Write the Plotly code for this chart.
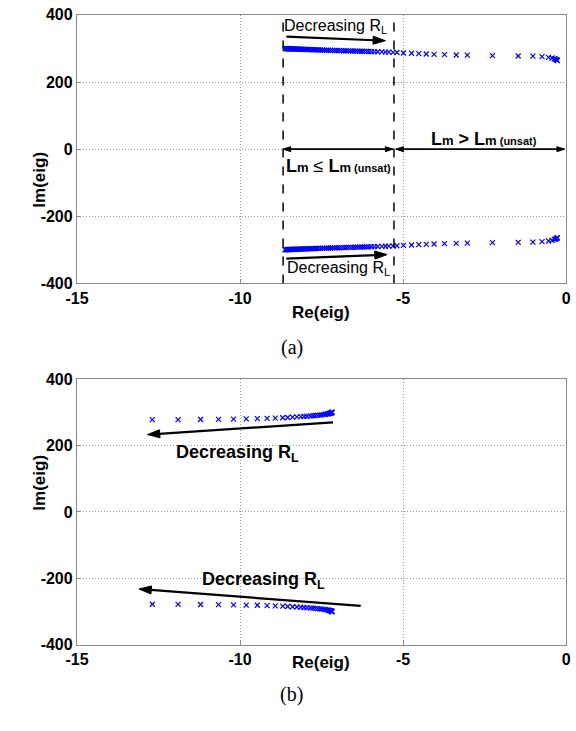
import plotly.graph_objects as go

# ---------------- data: panel (a) ----------------
re_a = [-8.62, -8.60, -8.58, -8.56, -8.54, -8.52, -8.50, -8.47, -8.44, -8.41,
        -8.38, -8.35, -8.32, -8.29, -8.26, -8.22, -8.18, -8.14, -8.10, -8.06,
        -8.02, -7.98, -7.94, -7.89, -7.84, -7.79, -7.74, -7.69, -7.64, -7.59,
        -7.53, -7.47, -7.41, -7.35, -7.29, -7.23, -7.17, -7.10, -7.03, -6.96,
        -6.89, -6.82, -6.75, -6.68, -6.61, -6.54, -6.47, -6.40, -6.33, -6.26,
        -6.19, -6.12, -6.05, -5.97, -5.88, -5.78, -5.65, -5.54, -5.44, -5.31,
        -5.19, -4.99, -4.74, -4.52, -4.29, -4.05, -3.73, -3.37, -3.03, -2.26,
        -1.47, -1.02, -0.74, -0.54, -0.43, -0.36, -0.33, -0.30, -0.28, -0.27]
im_a = [299.5, 299.4, 299.3, 299.2, 299.1, 299.0, 298.9, 298.8, 298.7, 298.6,
        298.5, 298.4, 298.3, 298.2, 298.1, 297.9, 297.8, 297.6, 297.5, 297.3,
        297.2, 297.0, 296.9, 296.7, 296.5, 296.3, 296.1, 295.9, 295.7, 295.5,
        295.3, 295.1, 294.9, 294.7, 294.5, 294.3, 294.1, 293.9, 293.7, 293.5,
        293.3, 293.1, 292.9, 292.7, 292.5, 292.3, 292.1, 291.9, 291.7, 291.5,
        291.3, 291.1, 290.9, 290.6, 290.3, 290.0, 289.6, 289.2, 288.8, 288.3,
        287.8, 286.5, 285.5, 284.5, 283.5, 282.5, 281.5, 280.5, 280.0, 278.5,
        277.5, 277.0, 275.5, 273.5, 271.5, 269.5, 268.0, 266.5, 265.0, 263.5]
im_a_conj = [-v for v in im_a]

# ---------------- data: panel (b) ----------------
re_b = [-12.69, -11.90, -11.21, -10.66, -10.20, -9.81, -9.47, -9.17, -8.92, -8.69,
        -8.54, -8.39, -8.26, -8.14, -8.04, -7.95, -7.85, -7.77, -7.69, -7.62,
        -7.55, -7.49, -7.43, -7.38, -7.33, -7.29, -7.25, -7.22, -7.20, -7.19,
        -7.18, -7.18]
im_b = [278.0, 278.2, 278.6, 279.0, 279.6, 280.3, 281.0, 281.8, 282.7, 283.6,
        284.5, 285.4, 286.2, 286.9, 287.6, 288.3, 289.0, 289.7, 290.4, 291.1,
        291.8, 292.6, 293.4, 294.2, 295.0, 295.8, 296.6, 297.4, 298.2, 299.0,
        300.0, 301.0]
im_b_conj = [-v for v in im_b]

x_ticks = [-15, -10, -5, 0]
x_tick_text = ["-15", "-10", "-5", "0"]
y_ticks = [-400, -200, 0, 200, 400]
y_tick_text = ["-400", "-200", "0", "200", "400"]

BLUE = "#0000FF"
FONT = "Liberation Sans, Arial, sans-serif"

fig = go.Figure()

marker = dict(symbol="x-thin", size=5, line=dict(width=1.2, color=BLUE), color=BLUE)
for xs, ys, ax in [(re_a, im_a, "x"), (re_a, im_a_conj, "x"),
                   (re_b, im_b, "x2"), (re_b, im_b_conj, "x2")]:
    fig.add_trace(go.Scatter(x=xs, y=ys, mode="markers", marker=marker,
                             xaxis=ax, yaxis="y" if ax == "x" else "y2",
                             showlegend=False, hoverinfo="skip"))

axis_common = dict(
    showgrid=True, gridcolor="#9a9a9a", griddash="1px,2px", gridwidth=1,
    showline=True, linecolor="#8a8a8a", linewidth=1.3, mirror=True,
    ticks="inside", ticklen=4, tickcolor="#8a8a8a",
    zeroline=False,
    tickfont=dict(family=FONT, size=16, color="black"),
)
bx = ["<b>%s</b>" % t for t in x_tick_text]
by = ["<b>%s</b>" % t for t in y_tick_text]
xdom = [0.1163, 0.9913]
fig.update_layout(
    width=576, height=731, autosize=False,
    margin=dict(l=0, r=0, t=0, b=0),
    paper_bgcolor="white", plot_bgcolor="white",
    xaxis=dict(domain=xdom, range=[-15, 0], tickvals=x_ticks, ticktext=bx, anchor="y", **axis_common),
    yaxis=dict(domain=[0.6142, 0.9904], range=[-400, 400], tickvals=y_ticks, ticktext=by, anchor="x", **axis_common),
    xaxis2=dict(domain=xdom, range=[-15, 0], tickvals=x_ticks, ticktext=bx, anchor="y2", **axis_common),
    yaxis2=dict(domain=[0.1081, 0.4802], range=[-400, 400], tickvals=y_ticks, ticktext=by, anchor="x2", **axis_common),
)

# dashed vertical boundaries in (a)
for xv in [-8.68, -5.28]:
    fig.add_shape(type="line", xref="x", yref="y", x0=xv, x1=xv, y0=-400, y1=400,
                  line=dict(color="black", width=1.5, dash="dash"))


def arrow(tail, head, panel, width=2.2, size=13, double=False):
    """Arrow drawn as a line trace whose last point carries an arrow-shaped marker."""
    xa, ya = ("x", "y") if panel == "a" else ("x2", "y2")
    if double:
        xs = [tail[0], head[0], tail[0]]
        ys = [tail[1], head[1], tail[1]]
        sizes = [0, size, size]
    else:
        xs = [tail[0], head[0]]
        ys = [tail[1], head[1]]
        sizes = [0, size]
    fig.add_trace(go.Scatter(
        x=xs, y=ys, mode="lines+markers", xaxis=xa, yaxis=ya,
        line=dict(color="black", width=width),
        marker=dict(symbol="arrow", angleref="previous", size=sizes, opacity=1,
                    color="black", line=dict(width=1, color="black")),
        showlegend=False, hoverinfo="skip"))


ann = []
def label(x, y, text, xr, yr, size=15, **kw):
    ann.append(dict(x=x, y=y, xref=xr, yref=yr, text=text, showarrow=False,
                    font=dict(family=FONT, size=size, color="black"), **kw))

RL = "Decreasing R<sub>L</sub>"
# panel (a)
arrow((-8.58, 335), (-5.54, 323), "a")
arrow((-8.58, -326), (-5.49, -314), "a")
label(-7.07, 365, RL, "x", "y", size=16)
label(-6.97, -355, RL, "x", "y", size=16)
arrow((-8.68, 0), (-5.31, 0), "a", width=1.5, size=8, double=True)
arrow((-5.22, 0), (-0.05, 0), "a", width=1.5, size=8, double=True)
LM_LE = ("<b>L</b><b><span style='font-size:13px'>m</span></b> ≤ <b>L</b>"
         "<b><span style='font-size:13px'>m</span><span style='font-size:11px'> (unsat)</span></b>")
LM_GT = ("<b>L</b><b><span style='font-size:13px'>m</span></b> <b>&gt;</b> <b>L</b>"
         "<b><span style='font-size:13px'>m</span><span style='font-size:11px'> (unsat)</span></b>")
label(-6.97, -50, LM_LE, "x", "y", size=18)
label(-2.51, 31, LM_GT, "x", "y", size=18)

# panel (b)
arrow((-7.15, 270), (-12.84, 233), "b")
arrow((-6.30, -283), (-13.10, -232), "b")
label(-10.07, 176, "<b>" + RL + "</b>", "x2", "y2", size=18)
label(-9.29, -206, "<b>" + RL + "</b>", "x2", "y2", size=18)

# axis titles and captions
label(0.0295, 0.8016, "<b>Im(eig)</b>", "paper", "paper", size=17, textangle=-90)
label(0.0295, 0.2932, "<b>Im(eig)</b>", "paper", "paper", size=17, textangle=-90)
label(0.552, 0.5736, "<b>Re(eig)</b>", "paper", "paper", size=17)
label(0.552, 0.067, "<b>Re(eig)</b>", "paper", "paper", size=17)
ann.append(dict(x=0.5, y=0.524, xref="paper", yref="paper", text="(a)", showarrow=False,
                font=dict(family="Liberation Serif, Times New Roman, serif", size=20, color="black")))
ann.append(dict(x=0.5, y=0.0192, xref="paper", yref="paper", text="(b)", showarrow=False,
                font=dict(family="Liberation Serif, Times New Roman, serif", size=20, color="black")))

fig.update_layout(annotations=ann)
fig.write_html("out.html")
